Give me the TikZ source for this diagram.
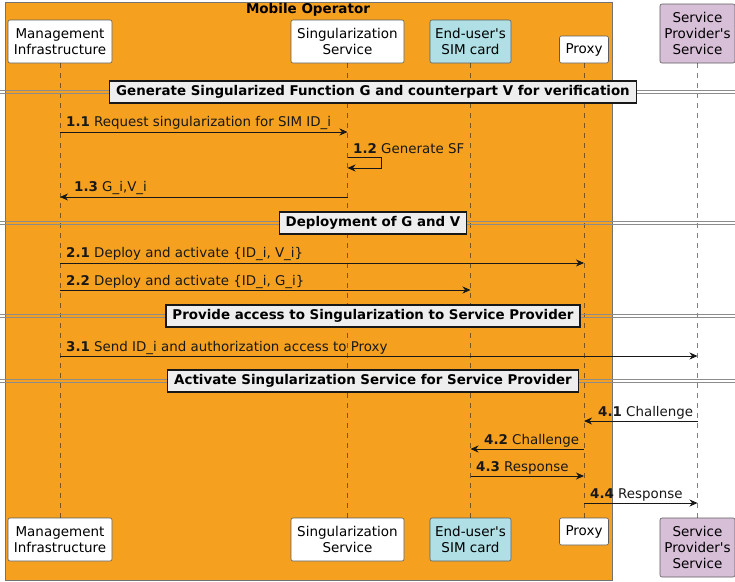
\documentclass[tikz,border=0pt]{standalone}
\usepackage{fontspec}
\setmainfont{DejaVu Sans}[Ligatures=TeXOff]
\usetikzlibrary{arrows.meta,calc}
\definecolor{opbox}{HTML}{F5A11F}
\definecolor{simfill}{HTML}{B0E0E6}
\definecolor{spfill}{HTML}{D8BFD8}
\definecolor{ink}{HTML}{181818}
\definecolor{sepfill}{HTML}{EEEEEE}
\tikzset{
  actor/.style={draw=ink!70, line width=0.6pt, rounded corners=2pt, fill=white,
    align=center, font=\fontsize{13.5}{16}\selectfont, inner sep=0pt},
  lifeline/.style={draw=ink, opacity=0.55, line width=0.6pt, dash pattern=on 5pt off 5pt},
  msg/.style={draw=ink, line width=0.9pt, -{Stealth[length=8pt,width=7pt,inset=2.5pt]}},
  lbl/.style={font=\fontsize{13.4}{15}\selectfont, inner sep=0pt, anchor=base west, text=ink},
  sepbox/.style={draw=ink, line width=1.4pt, fill=sepfill, inner xsep=6.5pt, inner ysep=0pt,
    minimum height=22pt, font=\bfseries\fontsize{13.4}{15}\selectfont},
  sepline/.style={draw=black!45, line width=0.8pt},
}
\newcommand{\sepbar}[3]{%
  \draw[sepline] (0,#1-1.6) -- (735,#1-1.6);
  \draw[sepline] (0,#1+1.6) -- (735,#1+1.6);
  \node[sepbox] (#2) at (373,#1) {#3};
}
\begin{document}
\begin{tikzpicture}[x=1pt,y=-1pt]
\useasboundingbox (0,0) rectangle (735,581);
\fill[white] (0,0) rectangle (735,581);

% Mobile Operator box
\draw[fill=opbox, draw=black!55, line width=0.6pt] (5,2) rectangle (612,580);
\node[font=\bfseries\fontsize{13.5}{16}\selectfont, inner sep=0pt] (optitle) at (308,9.5) {Mobile Operator};

% participants, top row
\node[actor, minimum width=104pt, minimum height=43pt] (miT) at (60,41.5) {Management\\Infrastructure};
\node[actor, minimum width=113pt, minimum height=43pt] (ssT) at (347.5,41.5) {Singularization\\Service};
\node[actor, minimum width=81pt, minimum height=43pt, fill=simfill] (simT) at (470.5,41.5) {End-user's\\SIM card};
\node[actor, minimum width=49pt, minimum height=27pt] (pxT) at (584,49.5) {Proxy};
\node[actor, minimum width=75pt, minimum height=59pt, fill=spfill] (spT) at (697.5,33.5) {Service\\Provider's\\Service};

% participants, bottom row
\node[actor, minimum width=104pt, minimum height=43pt] (miB) at (60,539.5) {Management\\Infrastructure};
\node[actor, minimum width=113pt, minimum height=43pt] (ssB) at (347.5,539.5) {Singularization\\Service};
\node[actor, minimum width=81pt, minimum height=43pt, fill=simfill] (simB) at (470.5,539.5) {End-user's\\SIM card};
\node[actor, minimum width=49pt, minimum height=27pt] (pxB) at (584,531.5) {Proxy};
\node[actor, minimum width=75pt, minimum height=59pt, fill=spfill] (spB) at (697.5,547.5) {Service\\Provider's\\Service};

% lifelines
\foreach \p in {mi,ss,sim,px,sp}{
  \draw[lifeline] (\p T.south) -- (\p B.north);
}

% separators
\sepbar{92}{sep1}{Generate Singularized Function G and counterpart V for verification}
\sepbar{223}{sep2}{Deployment of G and V}
\sepbar{316}{sep3}{Provide access to Singularization to Service Provider}
\sepbar{381}{sep4}{Activate Singularization Service for Service Provider}

% 1.x
\draw[msg] (miT |- 0,132) -- (ssT |- 0,132);
\node[lbl] (l11) at (66,126.5) {\textbf{1.1} Request singularization for SIM ID\_i};
\draw[msg] (ssT |- 0,157) -- (381,157) -- (381,168) -- (ssT |- 0,168);
\node[lbl] (l12) at (353,153.5) {\textbf{1.2} Generate SF};
\draw[msg] (ssT |- 0,197) -- (miT |- 0,197);
\node[lbl] (l13) at (74,191.5) {\textbf{1.3} G\_i,V\_i};

% 2.x
\draw[msg] (miT |- 0,263) -- (pxT |- 0,263);
\node[lbl] (l21) at (66,257.5) {\textbf{2.1} Deploy and activate \{ID\_i, V\_i\}};
\draw[msg] (miT |- 0,290) -- (simT |- 0,290);
\node[lbl] (l22) at (66,285) {\textbf{2.2} Deploy and activate \{ID\_i, G\_i\}};

% 3.x
\draw[msg] (miT |- 0,356) -- (spT |- 0,356);
\node[lbl] (l31) at (66,351) {\textbf{3.1} Send ID\_i and authorization access to Proxy};

% 4.x
\draw[msg] (spT |- 0,421) -- (pxT |- 0,421);
\node[lbl] (l41) at (598,416) {\textbf{4.1} Challenge};
\draw[msg] (pxT |- 0,449) -- (simT |- 0,449);
\node[lbl] (l42) at (484,444) {\textbf{4.2} Challenge};
\draw[msg] (simT |- 0,476) -- (pxT |- 0,476);
\node[lbl] (l43) at (476,471) {\textbf{4.3} Response};
\draw[msg] (pxT |- 0,503) -- (spT |- 0,503);
\node[lbl] (l44) at (590,498) {\textbf{4.4} Response};
\end{tikzpicture}
\end{document}
